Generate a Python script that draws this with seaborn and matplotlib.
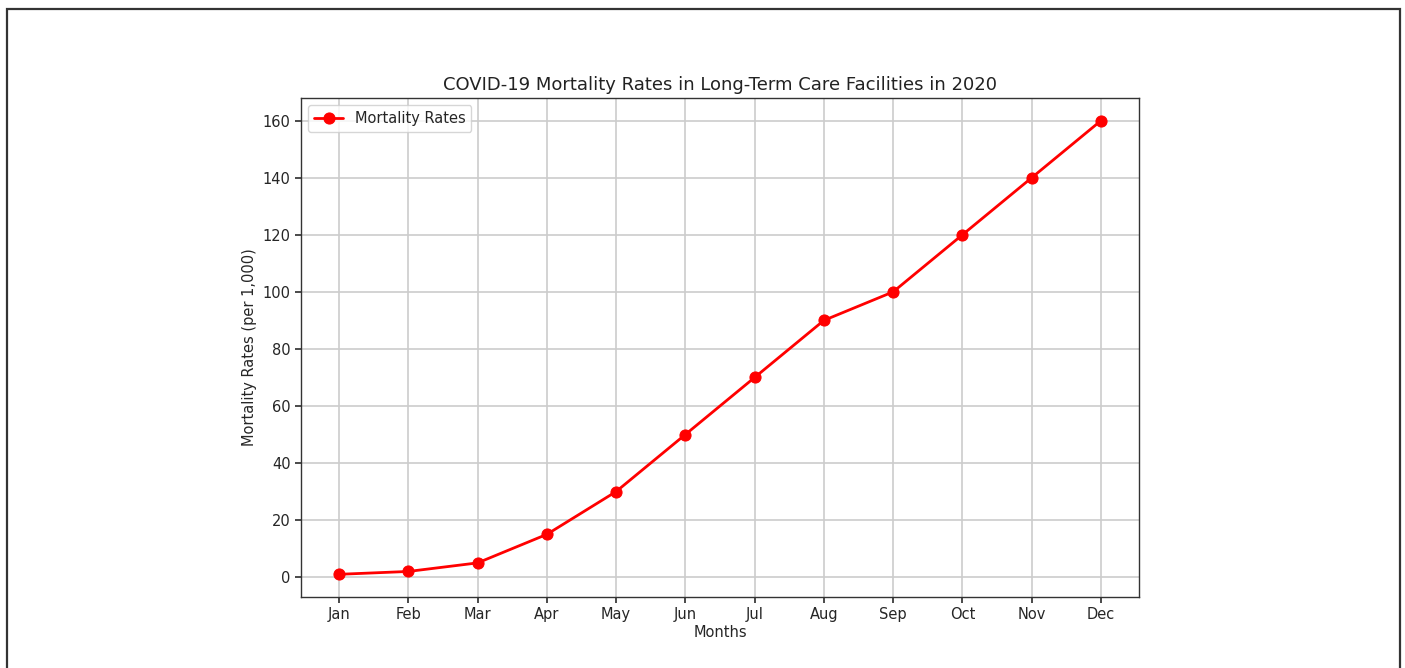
import matplotlib
matplotlib.use("Agg")
import matplotlib.pyplot as plt
import seaborn as sns
import pandas as pd
from matplotlib.patches import Rectangle

months = ["Jan", "Feb", "Mar", "Apr", "May", "Jun", "Jul", "Aug", "Sep", "Oct", "Nov", "Dec"]
rates = [1, 2, 5, 15, 30, 50, 70, 90, 100, 120, 140, 160]

sns.set_theme(style="ticks")
plt.rcParams['font.family'] = ['DejaVu Sans']

df = pd.DataFrame({"Months": months, "Rate": rates})

fig = plt.figure(figsize=(14.05, 6.68), dpi=100)
ax = fig.add_axes([0.2142, 0.1063, 0.5965, 0.747])

sns.lineplot(data=df, x="Months", y="Rate", ax=ax, color="red", marker="o",
             markersize=8, markeredgecolor="red", linewidth=2, sort=False,
             label="Mortality Rates")

ax.grid(True, color="#cccccc", linewidth=1.2)
for s in ax.spines.values():
    s.set_color("#333333")
    s.set_linewidth(1.0)
ax.tick_params(labelsize=10.5, color="#333333", length=4)
ax.set_title("COVID-19 Mortality Rates in Long-Term Care Facilities in 2020", fontsize=13, color="#222222")
ax.set_xlabel("Months", fontsize=10.5, labelpad=2)
ax.set_ylabel("Mortality Rates (per 1,000)", fontsize=10.5)
ax.set_yticks([0, 20, 40, 60, 80, 100, 120, 140, 160])
ax.margins(x=0.05, y=0.05)
ax.legend(loc="upper left", fontsize=10.5, frameon=True)

fig.patches.append(Rectangle((0.005, -0.02), 0.9914, 1.0065, transform=fig.transFigure,
                             fill=False, edgecolor="#333333", linewidth=1.6))

fig.savefig("out.png", dpi=100, facecolor="white")
